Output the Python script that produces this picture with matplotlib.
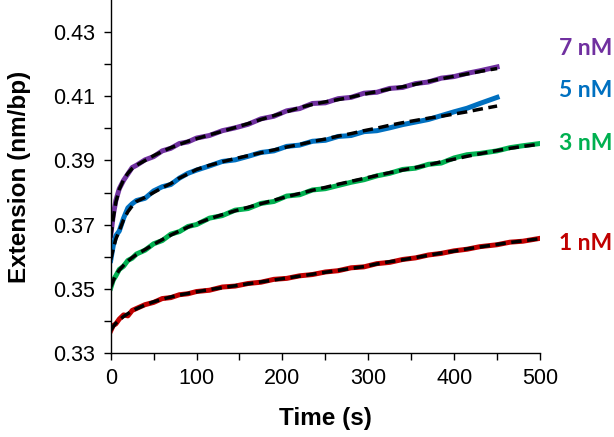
import matplotlib
matplotlib.use("Agg")
import matplotlib.pyplot as plt
from matplotlib.ticker import MultipleLocator, FixedLocator

# ---- data ------------------------------------------------------------------
T_SHORT = [0, 3, 6, 10, 15, 20, 25, 30, 40, 50, 60, 70, 80, 90, 100, 115, 130,
           145, 160, 175, 190, 205, 220, 235, 250, 265, 280, 295, 310, 325,
           340, 355, 370, 385, 400, 415, 430, 450]
T_LONG = T_SHORT + [465, 480, 500]

nm7_data = [.3665, .373, .3775, .3812, .3838, .3858, .3878, .3885, .3902, .3912,
            .3930, .3938, .3953, .3958, .3970, .3978, .3993, .4002, .4013, .4030,
            .4038, .4055, .4062, .4078, .4080, .4093, .4097, .4110, .4113, .4125,
            .4128, .4140, .4145, .4157, .4162, .4172, .4180, .4192]
nm7_fit = [.366, .372, .377, .381, .384, .386, .3875, .3885, .390, .3915,
           .3928, .394, .395, .396, .3968, .398, .3991, .4003, .4015, .4028,
           .404, .4052, .4065, .4075, .4083, .409, .4098, .4107, .4115, .4123,
           .413, .4138, .4147, .4155, .4163, .417, .4178, .4187]

nm5_data = [.3588, .3635, .3665, .368, .372, .3752, .3765, .3775, .3782, .3805,
            .3818, .3825, .3845, .3860, .3870, .3883, .3897, .3902, .3913, .3925,
            .3930, .3944, .3948, .3960, .3963, .3975, .3978, .3990, .3993, .4002,
            .4012, .4020, .4028, .4040, .4052, .4063, .4078, .4097]
nm5_fit = [.359, .3625, .3655, .368, .3715, .374, .3758, .3772, .3785, .380,
           .3815, .3828, .3845, .3858, .3872, .3885, .3896, .3906, .3915, .3924,
           .3933, .3942, .3950, .3959, .3967, .3976, .3984, .3993, .4001, .4010,
           .4018, .4025, .4032, .4038, .4045, .4052, .4060, .4070]

nm3_data = [.3502, .3527, .3540, .3560, .3570, .3588, .3595, .3608, .3620, .3640,
            .3650, .3670, .3678, .3694, .3700, .3720, .3728, .3745, .3750, .3766,
            .3772, .3789, .3793, .3808, .3812, .3822, .3832, .3840, .3852, .3860,
            .3872, .3876, .3888, .3892, .3908, .3918, .3922, .3930, .3940, .3946,
            .3953]
nm3_fit = [.3505, .3525, .3543, .3558, .3573, .3586, .3597, .3606, .3622, .3638,
           .3653, .3667, .3680, .3692, .3703, .3718, .3731, .3743, .3754, .3765,
           .3776, .3787, .3797, .3807, .3816, .3826, .3835, .3844, .3853, .3862,
           .3870, .3878, .3886, .3896, .3904, .3913, .3921, .3931, .3938, .3944,
           .3951]

nm1_data = [.3368, .3385, .3390, .3405, .3418, .3415, .3432, .3438, .3450, .3457,
            .3469, .3472, .3481, .3484, .3491, .3495, .3505, .3508, .3516, .3520,
            .3529, .3532, .3540, .3544, .3552, .3556, .3565, .3568, .3578, .3582,
            .3591, .3596, .3605, .3610, .3618, .3623, .3631, .3637, .3645, .3648,
            .3657]
nm1_fit = [.3370, .3382, .3392, .3402, .3413, .3422, .3430, .3437, .3449, .3459,
           .3467, .3474, .3480, .3485, .3490, .3497, .3503, .3509, .3515, .3521,
           .3527, .3533, .3539, .3545, .3551, .3557, .3563, .3569, .3577, .3584,
           .3590, .3597, .3604, .3611, .3617, .3624, .3630, .3638, .3644, .3649,
           .3656]

LABELS = ["7 nM", "5 nM", "3 nM", "1 nM"]
LABEL_Y = [0.4249, 0.4119, 0.3952, 0.3640]

# ---- palette ----------------------------------------------------------------
PURPLE = "#7030A0"
BLUE = "#0070C0"
GREEN = "#00B050"
RED = "#C00000"

plt.rcParams.update({"font.family": ["Liberation Sans", "DejaVu Sans"]})

fig = plt.figure(figsize=(6.14, 4.37), dpi=100)
ax = fig.add_axes([0.1803, 0.1929, 0.6992, 0.8064])

series = [(T_SHORT, nm7_data, nm7_fit, PURPLE),
          (T_SHORT, nm5_data, nm5_fit, BLUE),
          (T_LONG, nm3_data, nm3_fit, GREEN),
          (T_LONG, nm1_data, nm1_fit, RED)]
for t, d, f, c in series:
    ax.plot(t, d, color=c, lw=3.6, solid_joinstyle="round", zorder=2)
    ax.plot(t, f, color="black", lw=2.5, dashes=(3.0, 1.6), zorder=3)

for lab, y, (_, _, _, c) in zip(LABELS, LABEL_Y, series):
    ax.text(522, y, lab, color=c, fontsize=16.5, weight="bold", ha="left",
            va="center", clip_on=False, family=["Lato", "DejaVu Sans"])

ax.set_xlim(0, 500)
ax.set_ylim(0.33, 0.44)
ax.xaxis.set_major_locator(MultipleLocator(100))
ax.xaxis.set_minor_locator(MultipleLocator(50))
ax.yaxis.set_major_locator(FixedLocator([0.33, 0.35, 0.37, 0.39, 0.41, 0.43]))
ax.yaxis.set_minor_locator(FixedLocator([0.34, 0.36, 0.38, 0.40, 0.42]))
ax.set_yticklabels(["0.33", "0.35", "0.37", "0.39", "0.41", "0.43"])
ax.tick_params(which="both", direction="out", length=5, width=1.0,
               labelsize=15.5, pad=6)

for side in ("top", "right"):
    ax.spines[side].set_visible(False)
for side in ("left", "bottom"):
    ax.spines[side].set_linewidth(1.0)

ax.set_xlabel("Time (s)", fontsize=17.5, weight="bold", labelpad=13)
ax.set_ylabel("Extension (nm/bp)", fontsize=17.5, weight="bold", labelpad=16)

fig.savefig("out.png", dpi=100)
